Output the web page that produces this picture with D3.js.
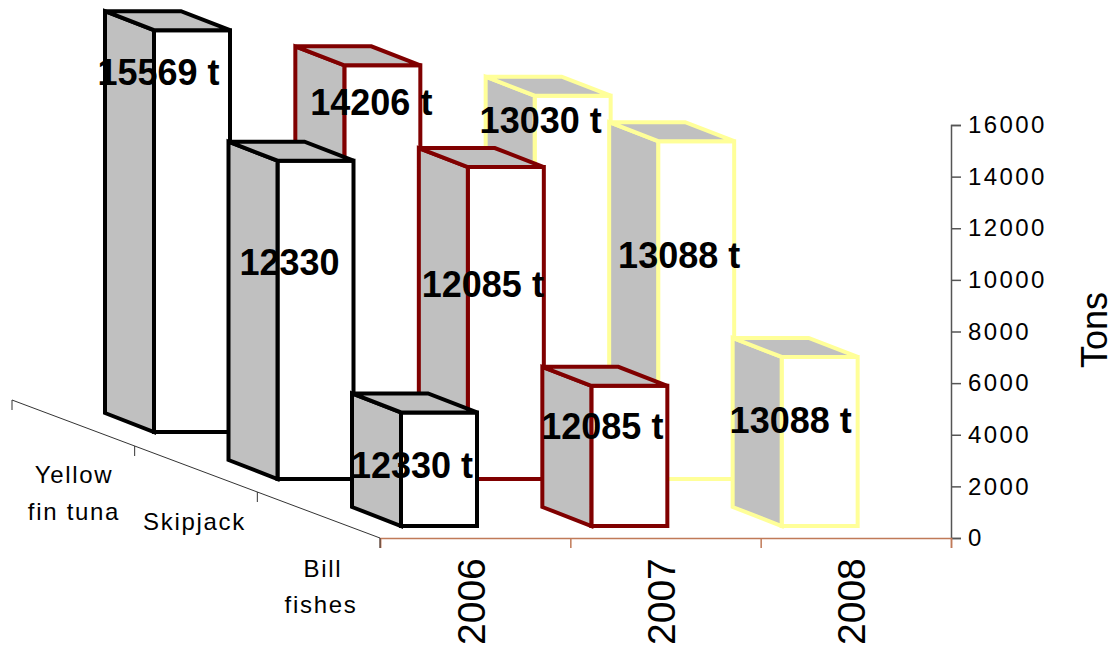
<!DOCTYPE html>
<html>
<head>
<meta charset="utf-8">
<script src="https://cdn.jsdelivr.net/npm/d3@7"></script>
<style>
  html, body { margin: 0; padding: 0; background: #fff; }
  text { font-family: "Liberation Sans", Arial, sans-serif; fill: #000; }
</style>
</head>
<body>
<script>
var width = 1116,
    height = 651;

// Chart data, back row first
var years = ["2006", "2007", "2008"],
    rows = ["Yellow fin tuna", "Skipjack", "Bill fishes"],
    yellow_fin = [15569, 14206, 13030],
    skipjack = [12330, 12085, 13088],
    bill_fishes = [4400, 5430, 6550],
    yellow_labels = ["15569 t", "14206 t", "13030 t"],
    skipjack_labels = ["12330", "12085 t", "13088 t"],
    bill_labels = ["12330 t", "12085 t", "13088 t"],
    value_ticks = [0, 2000, 4000, 6000, 8000, 10000, 12000, 14000, 16000];

var series = [yellow_fin, skipjack, bill_fishes],
    labels = [yellow_labels, skipjack_labels, bill_labels];

// Labels were dragged by hand in the original: [dx, dy] from top centre of the front face
var label_shift = [
  [[-33.5, 55], [-11, 50], [-32, 37]],
  [[-26, 114], [-23, 130], [-17, 127]],
  [[-27, 66], [-27, 53], [-29, 76]]
];

var row_colors = ["#000000", "#800000", "#FFFF99"], // one per year
    side_fill = "#C0C0C0",
    bar_width = 76,
    depth_x = -49, // shift of the back edge of a bar
    depth_y = -19;

var svg = d3.select("body")
            .append("svg")
            .attr("width", width)
            .attr("height", height)
            .style("display", "block");

var scale_y = d3.scaleLinear().domain([0, 16000]).range([538, 125]);

var scale_year = d3.scaleBand().domain(years).range([380, 951]);

// Rows step backwards along the floor
var row_x = d3.scalePoint().domain(rows).range([-226, 21]),
    row_base = d3.scalePoint().domain(rows).range([432, 526]);

var floor_x = d3.scaleBand().domain(rows).range([12, 380]),
    floor_y = d3.scaleBand().domain(rows).range([400, 538]);


/* Axes */

var axis_value = d3.axisRight(scale_y)
    .tickValues(value_ticks)
    .tickSize(10)
    .tickPadding(7)
    .tickFormat(d3.format("d"));

var value_g = svg.append("g")
    .attr("transform", "translate(951,0)")
    .call(axis_value);

value_g.selectAll("path, line").attr("stroke", "#555").attr("stroke-width", 1.5);
value_g.selectAll("text")
    .style("font-family", '"Liberation Sans", Arial, sans-serif')
    .style("font-size", "24px")
    .style("letter-spacing", "2.4px");

var year_edges = d3.scaleLinear().domain([0, 3]).range([380, 951]);

var axis_year = d3.axisBottom(year_edges)
    .ticks(3)
    .tickSize(10)
    .tickFormat("");

var year_g = svg.append("g")
    .attr("transform", "translate(0,538)")
    .call(axis_year);

year_g.selectAll("path, line").attr("stroke", "#C07A58").attr("stroke-width", 1.5);

svg.selectAll(".year-label")
   .data(years)
   .enter().append("text")
   .attr("class", "year-label")
   .attr("transform", function(d) {
     return "translate(" + (scale_year(d) + scale_year.bandwidth() / 2 + 9.5) + ",645) rotate(-90)";
   })
   .style("font-size", "39px")
   .text(function(d) { return d; });

// Floor axis going back to the left
var floor_g = svg.append("g")
    .attr("fill", "none")
    .attr("stroke", "#333")
    .attr("stroke-width", 1);

floor_g.append("line")
    .attr("x1", floor_x.range()[0]).attr("y1", floor_y.range()[0])
    .attr("x2", floor_x.range()[1]).attr("y2", floor_y.range()[1]);

floor_g.selectAll(".floor-tick")
    .data(rows.concat(["end"]))
    .enter().append("line")
    .attr("class", "floor-tick")
    .attr("x1", function(d, i) { return floor_x.range()[0] + i * floor_x.bandwidth(); })
    .attr("x2", function(d, i) { return floor_x.range()[0] + i * floor_x.bandwidth(); })
    .attr("y1", function(d, i) { return floor_y.range()[0] + i * floor_y.bandwidth(); })
    .attr("y2", function(d, i) { return floor_y.range()[0] + i * floor_y.bandwidth() + 10; });

var row_text = [
  { lines: [["Yellow", 74, 483], ["fin tuna", 74, 520]] },
  { lines: [["Skipjack", 194.5, 530]] },
  { lines: [["Bill", 323, 577], ["fishes", 321, 613]] }
];

row_text.forEach(function(r) {
  r.lines.forEach(function(l) {
    svg.append("text")
       .attr("x", l[1])
       .attr("y", l[2])
       .attr("text-anchor", "middle")
       .style("font-size", "24px")
       .style("letter-spacing", "1.7px")
       .text(l[0]);
  });
});

svg.append("text")
   .attr("transform", "translate(1107,330) rotate(-90)")
   .attr("text-anchor", "middle")
   .style("font-size", "36px")
   .text("Tons");


/* Bars */

function pts(list) {
  return list.map(function(p) { return p.join(","); }).join(" ");
}

var bars = [];
rows.forEach(function(row, r) {
  years.forEach(function(year, c) {
    var base = row_base(row),
        left = scale_year(year) + row_x(row),
        top = base - (scale_y(0) - scale_y(series[r][c]));
    bars.push({ left: left, right: left + bar_width, top: top, base: base,
                color: row_colors[c], label: labels[r][c], shift: label_shift[r][c] });
  });
});

var bar_g = svg.selectAll(".bar")
    .data(bars)
    .enter().append("g")
    .attr("class", "bar")
    .attr("stroke", function(d) { return d.color; })
    .attr("stroke-width", 4)
    .attr("stroke-linejoin", "miter");

bar_g.append("polygon") // front
    .attr("fill", "#fff")
    .attr("points", function(d) {
      return pts([[d.left, d.top], [d.right, d.top], [d.right, d.base], [d.left, d.base]]);
    });

bar_g.append("polygon") // left side
    .attr("fill", side_fill)
    .attr("points", function(d) {
      return pts([[d.left, d.top], [d.left, d.base], [d.left + depth_x, d.base + depth_y], [d.left + depth_x, d.top + depth_y]]);
    });

bar_g.append("polygon") // top
    .attr("fill", side_fill)
    .attr("points", function(d) {
      return pts([[d.left, d.top], [d.right, d.top], [d.right + depth_x, d.top + depth_y], [d.left + depth_x, d.top + depth_y]]);
    });

// Labels sit over all of the bars
svg.selectAll(".bar-label")
   .data(bars)
   .enter().append("text")
   .attr("class", "bar-label")
   .attr("x", function(d) { return d.left + bar_width / 2 + d.shift[0]; })
   .attr("y", function(d) { return d.top + d.shift[1]; })
   .attr("text-anchor", "middle")
   .style("font-size", "36px")
   .style("font-weight", "bold")
   .text(function(d) { return d.label; });
</script>
</body>
</html>
